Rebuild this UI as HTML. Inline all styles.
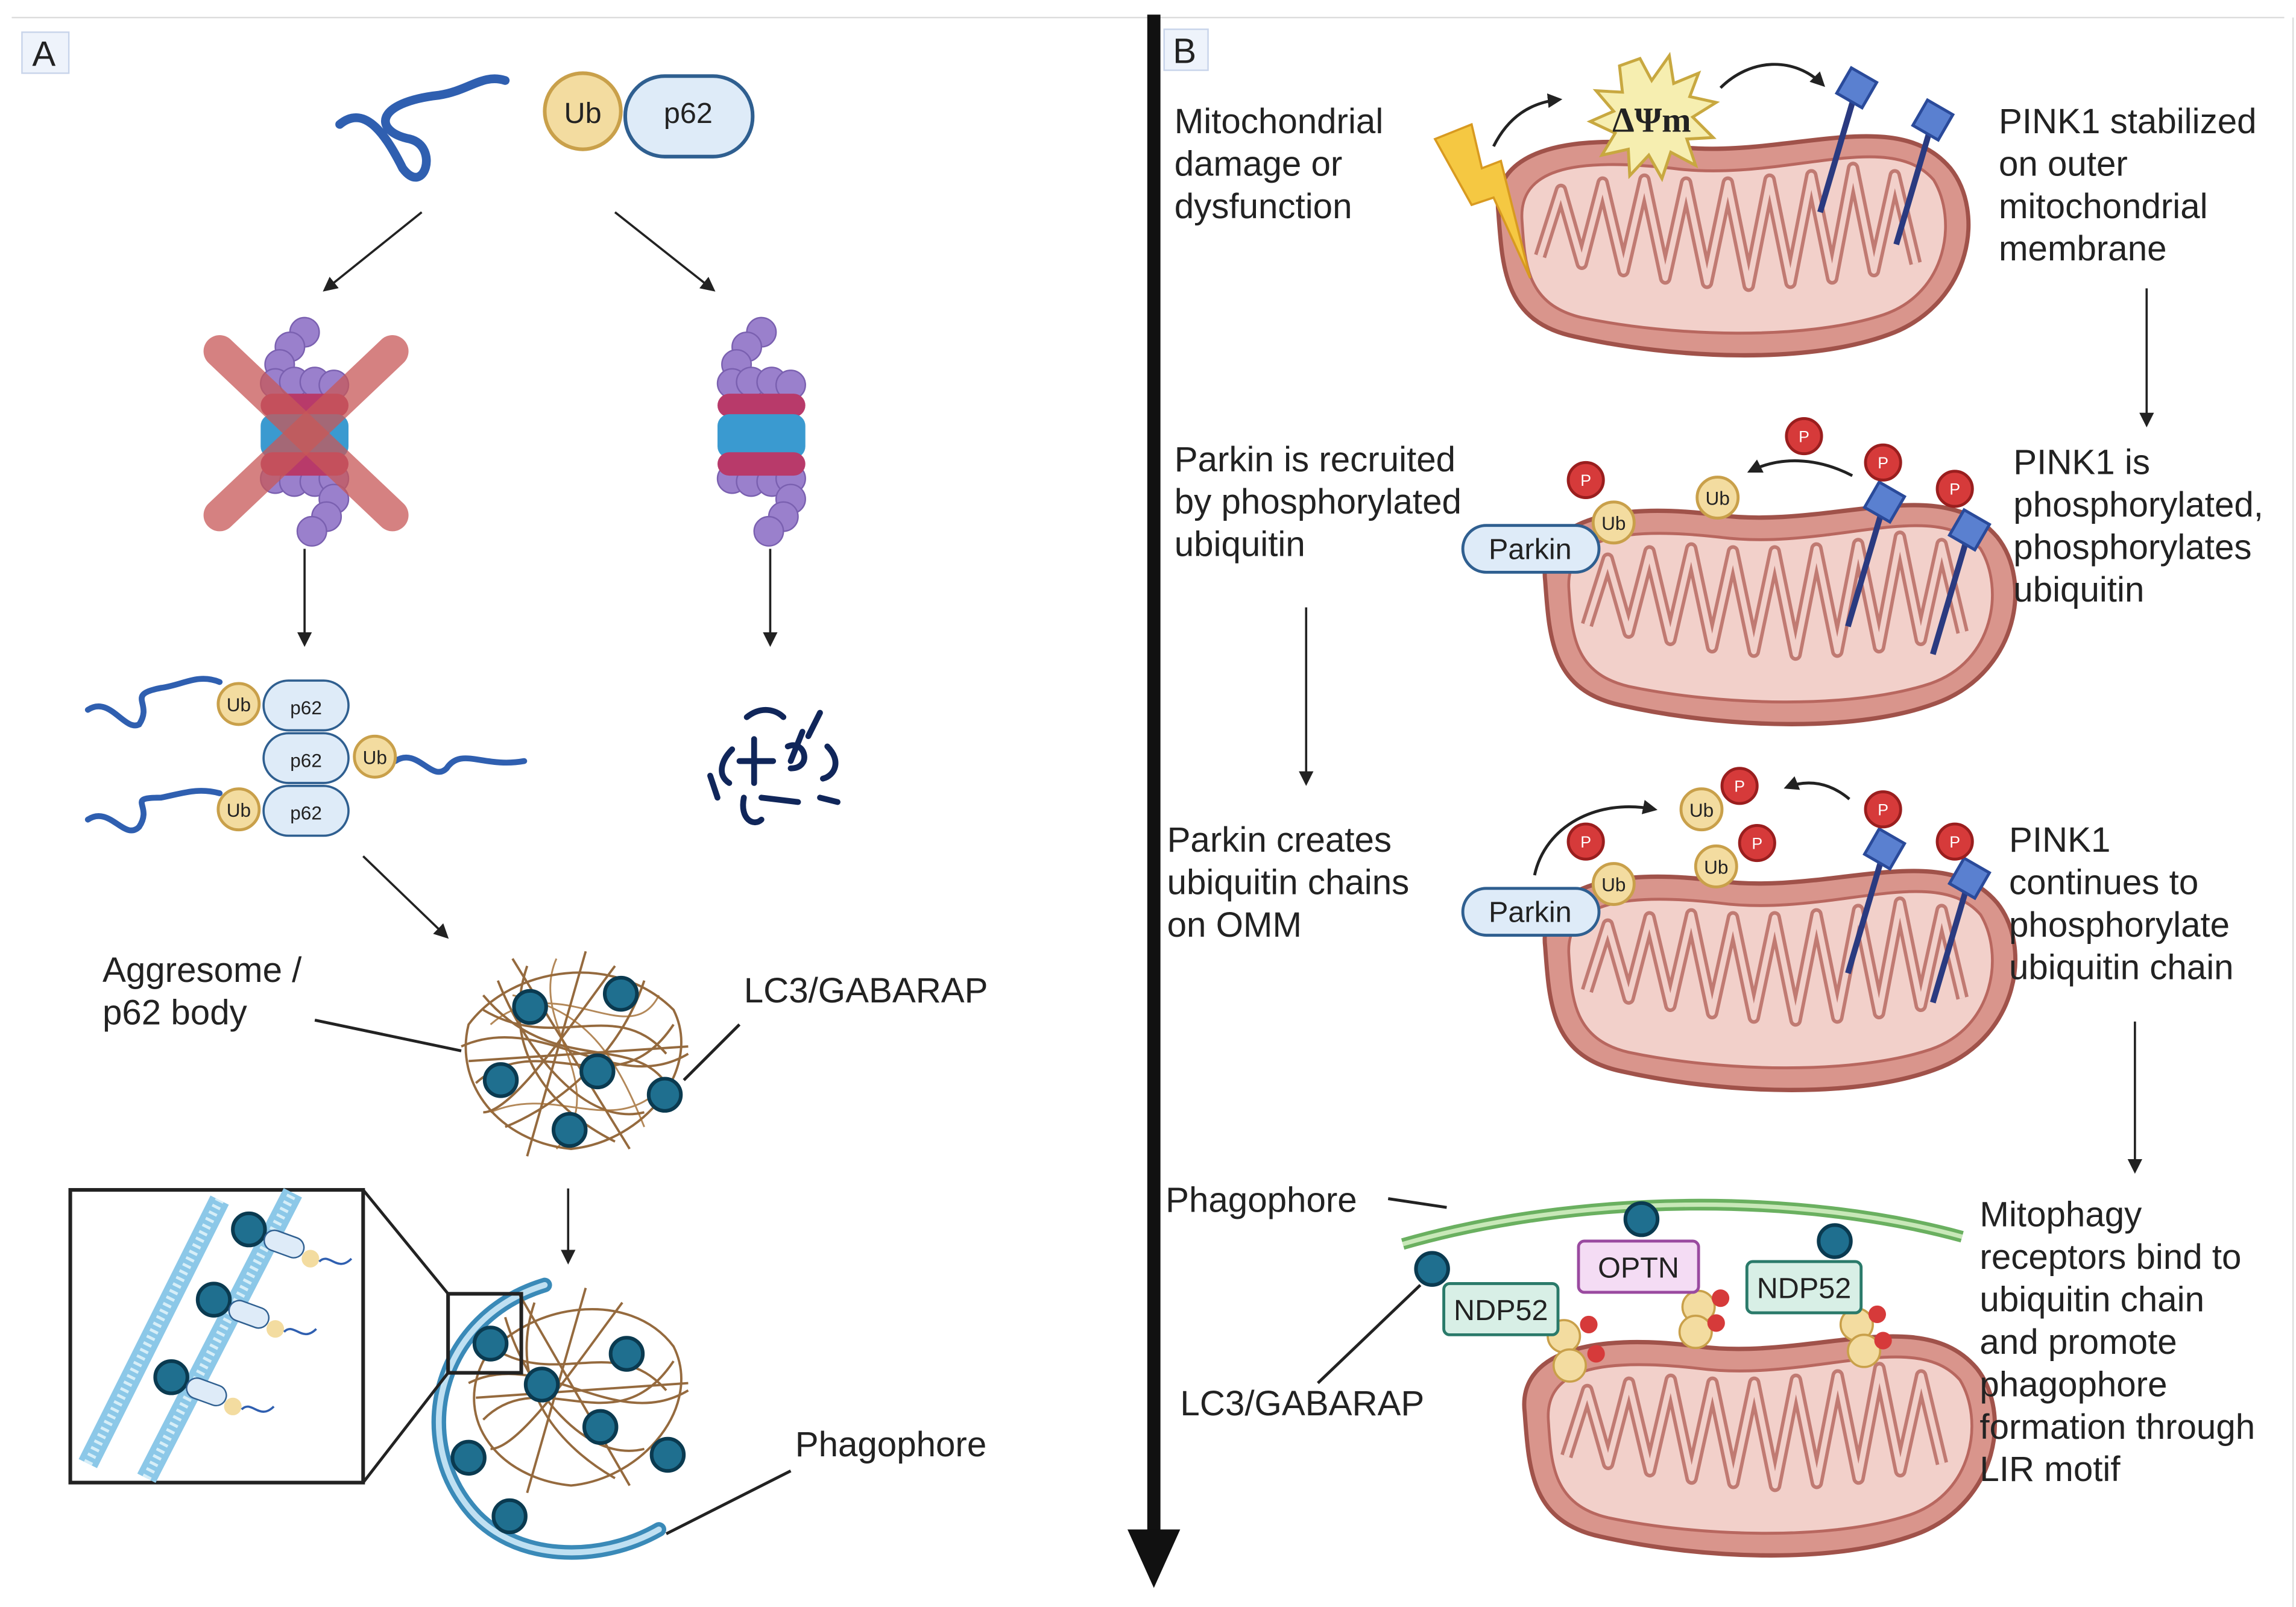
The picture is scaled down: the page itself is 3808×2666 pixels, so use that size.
<!DOCTYPE html>
<html><head><meta charset="utf-8"><style>
html,body{margin:0;padding:0;background:#fff;}
svg{display:block;}
text{font-family:"Liberation Sans","DejaVu Sans",sans-serif;fill:#222;}
</style></head><body>
<svg width="3808" height="2666" viewBox="0 0 1568 1098" preserveAspectRatio="none" xmlns="http://www.w3.org/2000/svg">
<defs>
<marker id="ah" markerWidth="10" markerHeight="10" refX="8" refY="5" orient="auto" markerUnits="userSpaceOnUse"><path d="M0,0 L10,5 L0,10 Z" fill="#222"/></marker>
<g id="mito" transform="scale(0.95,1)">
<path d="M-165,-20 C-170,-60 -120,-75 -40,-65 C40,-55 120,-95 160,-50 C185,-20 175,40 120,62 C60,85 -40,80 -110,65 C-160,55 -162,20 -165,-20 Z" fill="#d9958c" stroke="#a0524a" stroke-width="3"/>
<path d="M-148,-15 C-150,-48 -115,-58 -40,-50 C40,-40 115,-78 148,-42 C165,-15 158,35 112,50 C55,68 -40,65 -105,52 C-145,43 -146,15 -148,-15 Z" fill="#f2d0ca" stroke="#b8675f" stroke-width="2"/>
<path d="M-135,10 L-120,-35 L-105,15 L-90,-40 L-75,20 L-60,-42 L-45,25 L-30,-40 L-15,28 L0,-40 L15,30 L30,-42 L45,28 L60,-45 L75,25 L90,-50 L105,20 L120,-45 L135,15" fill="none" stroke="#c07a72" stroke-width="9" stroke-linejoin="round"/>
<path d="M-135,10 L-120,-35 L-105,15 L-90,-40 L-75,20 L-60,-42 L-45,25 L-30,-40 L-15,28 L0,-40 L15,30 L30,-42 L45,28 L60,-45 L75,25 L90,-50 L105,20 L120,-45 L135,15" fill="none" stroke="#f2d0ca" stroke-width="4" stroke-linejoin="round"/>
</g>
<g id="ub"><circle r="14" fill="#f3dca0" stroke="#c9a04a" stroke-width="2"/><text y="5" text-anchor="middle" font-size="13">Ub</text></g>
<g id="ubs"><circle r="11" fill="#f3dca0" stroke="#c9a04a" stroke-width="1.5"/></g>
<g id="pp"><circle r="12" fill="#d63a3a" stroke="#9a1e1e" stroke-width="2"/><text y="4" text-anchor="middle" font-size="11" style="fill:#fff">P</text></g>
<g id="pink"><line x1="0" y1="0" x2="-25" y2="85" stroke="#2a3a80" stroke-width="4"/><rect x="-10" y="-10" width="20" height="20" transform="rotate(30)" fill="#5a80d0" stroke="#2a4a9a" stroke-width="2"/></g>
<g id="lc3"><circle r="11" fill="#1f6f8f" stroke="#0a3a50" stroke-width="2.5"/></g>
<g id="prot"><g fill="#9a80cc" stroke="#7a60b0" stroke-width="1">
<circle cx="0" cy="-68" r="10"/><circle cx="-10" cy="-58" r="10"/><circle cx="-17" cy="-46" r="10"/>
<circle cx="-20" cy="-33" r="10"/><circle cx="-7" cy="-34" r="10"/><circle cx="7" cy="-34" r="10"/><circle cx="20" cy="-32" r="10"/>
<circle cx="-20" cy="32" r="10"/><circle cx="-7" cy="34" r="10"/><circle cx="7" cy="34" r="10"/><circle cx="20" cy="32" r="10"/>
<circle cx="20" cy="46" r="10"/><circle cx="15" cy="58" r="10"/><circle cx="5" cy="68" r="10"/></g>
<rect x="-30" y="-26" width="60" height="16" rx="8" fill="#b83a6a"/><rect x="-30" y="-12" width="60" height="30" rx="8" fill="#3a9ad0"/><rect x="-30" y="14" width="60" height="16" rx="8" fill="#b83a6a"/>
</g>
</defs>
<rect width="1568" height="1098" fill="#fff"/>
<line x1="8" y1="12" x2="1560" y2="12" stroke="#ddd" stroke-width="1"/>
<line x1="1566" y1="12" x2="1566" y2="1098" stroke="#ddd" stroke-width="1"/>

<!-- Panel A -->
<rect x="15" y="22" width="32" height="28" fill="#eef3fb" stroke="#c8d4ea"/>
<text x="22" y="45" font-size="24">A</text>
<path d="M232,85 C250,70 265,95 275,115 C290,135 300,100 280,95 C255,90 255,70 300,65 C320,62 330,50 345,55" fill="none" stroke="#2f5fb0" stroke-width="6" stroke-linecap="round"/>
<circle cx="398" cy="76" r="26" fill="#f3dca0" stroke="#c9a04a" stroke-width="2.5"/><text x="398" y="84" text-anchor="middle" font-size="20">Ub</text>
<rect x="427" y="52" width="87" height="55" rx="27" fill="#deebf8" stroke="#2f5f90" stroke-width="2.5"/><text x="470" y="84" text-anchor="middle" font-size="20">p62</text>
<line x1="288" y1="145" x2="222" y2="198" stroke="#222" stroke-width="1.5" marker-end="url(#ah)"/>
<line x1="420" y1="145" x2="487" y2="198" stroke="#222" stroke-width="1.5" marker-end="url(#ah)"/>
<use href="#prot" x="208" y="295"/>
<line x1="150" y1="240" x2="268" y2="352" stroke="#c85858" stroke-width="22" stroke-linecap="round" opacity="0.75"/>
<line x1="268" y1="240" x2="150" y2="352" stroke="#c85858" stroke-width="22" stroke-linecap="round" opacity="0.75"/>
<use href="#prot" x="520" y="295"/>
<line x1="208" y1="375" x2="208" y2="440" stroke="#222" stroke-width="1.5" marker-end="url(#ah)"/>
<line x1="526" y1="375" x2="526" y2="440" stroke="#222" stroke-width="1.5" marker-end="url(#ah)"/>
<g fill="none" stroke="#2f5fb0" stroke-width="4" stroke-linecap="round">
<path d="M60,485 C75,475 85,500 95,495 C105,480 85,475 110,470 C125,468 135,460 150,466"/>
<path d="M270,520 C285,510 295,535 305,525 C315,510 330,525 358,520"/>
<path d="M60,560 C75,550 85,575 95,565 C105,550 85,545 110,545 C125,542 135,538 150,542"/>
</g>
<use href="#ub" x="163" y="481"/><use href="#ub" x="256" y="517"/><use href="#ub" x="163" y="553"/>
<g fill="#deebf8" stroke="#2f5f90" stroke-width="1.5">
<rect x="180" y="465" width="58" height="34" rx="17"/><rect x="180" y="501" width="58" height="34" rx="17"/><rect x="180" y="537" width="58" height="34" rx="17"/></g>
<text x="209" y="488" text-anchor="middle" font-size="13">p62</text><text x="209" y="524" text-anchor="middle" font-size="13">p62</text><text x="209" y="560" text-anchor="middle" font-size="13">p62</text>
<g fill="none" stroke="#10265a" stroke-width="4" stroke-linecap="round">
<path d="M510,490 C520,482 530,485 535,490"/><path d="M548,500 L540,520"/><path d="M560,487 L552,503"/><path d="M500,512 C492,520 490,530 498,535"/>
<path d="M515,505 L515,535 M505,520 L528,520"/><path d="M538,510 C550,505 555,525 540,525"/><path d="M565,510 C575,520 570,530 562,532"/><path d="M520,545 L545,548"/><path d="M485,530 L490,545"/><path d="M508,545 C505,560 515,565 520,560"/><path d="M560,545 L572,548"/></g>
<line x1="248" y1="585" x2="305" y2="640" stroke="#222" stroke-width="1.5" marker-end="url(#ah)"/>
<g fill="none" stroke="#8a5a2a" stroke-width="1.6" opacity="0.9">
<path d="M320,700 C350,660 420,650 460,690 C480,730 440,780 390,785 C340,780 310,740 320,700 Z"/>
<path d="M330,690 C380,720 420,680 455,720 M325,740 C370,700 420,760 460,700 M340,670 C360,720 400,770 440,760 M360,660 C340,720 380,760 420,780 M420,660 C390,700 350,760 330,760 M440,670 C420,730 370,760 345,770 M315,715 C370,690 420,750 470,720 M350,655 L430,785 M400,650 L360,790 M320,725 L470,715 M330,680 C380,740 440,700 460,750"/>
</g>
<g stroke="#a06a30" stroke-width="1.2" fill="none" opacity="0.8"><path d="M335,700 C380,660 430,720 450,680 M335,760 C380,740 420,780 455,740 M350,680 C400,690 420,720 440,770 M380,655 C360,700 420,740 380,785"/></g>
<use href="#lc3" x="362" y="688"/><use href="#lc3" x="424" y="679"/><use href="#lc3" x="342" y="738"/><use href="#lc3" x="408" y="732"/><use href="#lc3" x="454" y="748"/><use href="#lc3" x="389" y="772"/>
<text x="70" y="671" font-size="24">Aggresome /</text><text x="70" y="700" font-size="24">p62 body</text>
<line x1="215" y1="697" x2="315" y2="718" stroke="#222" stroke-width="2"/>
<text x="508" y="685" font-size="24">LC3/GABARAP</text>
<line x1="505" y1="700" x2="467" y2="738" stroke="#222" stroke-width="2"/>
<line x1="388" y1="812" x2="388" y2="862" stroke="#222" stroke-width="1.5" marker-end="url(#ah)"/>
<path d="M372,878 C300,900 280,980 320,1030 C350,1068 410,1068 450,1045" fill="none" stroke="#3a8ab8" stroke-width="10" stroke-linecap="round"/>
<path d="M372,878 C300,900 280,980 320,1030 C350,1068 410,1068 450,1045" fill="none" stroke="#bfe0f2" stroke-width="4" stroke-linecap="round"/>
<g fill="none" stroke="#8a5a2a" stroke-width="1.6" opacity="0.9">
<path d="M330,930 C360,890 430,880 460,920 C480,960 440,1010 390,1015 C340,1010 310,970 330,930 Z"/>
<path d="M335,920 C380,950 420,910 455,950 M330,970 C370,930 420,990 460,930 M345,900 C360,950 400,1000 440,990 M365,890 C345,950 385,990 420,1010 M425,890 C395,930 355,990 335,990 M320,945 C370,920 420,980 470,950 M355,885 L430,1015 M400,880 L360,1020 M325,955 L470,945"/></g>
<use href="#lc3" x="335" y="918"/><use href="#lc3" x="428" y="925"/><use href="#lc3" x="370" y="946"/><use href="#lc3" x="410" y="975"/><use href="#lc3" x="456" y="994"/><use href="#lc3" x="320" y="996"/><use href="#lc3" x="348" y="1036"/>
<rect x="306" y="884" width="50" height="54" fill="none" stroke="#222" stroke-width="2.5"/>
<line x1="248" y1="813" x2="306" y2="884" stroke="#222" stroke-width="2"/>
<line x1="248" y1="1013" x2="306" y2="938" stroke="#222" stroke-width="2"/>
<rect x="48" y="813" width="200" height="200" fill="#fff" stroke="#222" stroke-width="2.5"/>
<g stroke="#8cc8e8" stroke-width="14"><line x1="60" y1="1000" x2="150" y2="820"/><line x1="100" y1="1010" x2="200" y2="815"/></g>
<g stroke="#d6eef8" stroke-width="6" stroke-dasharray="2 3"><line x1="60" y1="1000" x2="150" y2="820"/><line x1="100" y1="1010" x2="200" y2="815"/></g>
<g>
<use href="#lc3" x="170" y="840"/><rect x="180" y="843" width="28" height="14" rx="7" transform="rotate(20 194 850)" fill="#deebf8" stroke="#2f5f90"/><circle cx="212" cy="860" r="6" fill="#f3dca0"/><path d="M218,862 C225,855 230,870 240,860" fill="none" stroke="#2f5fb0" stroke-width="1.5"/>
<use href="#lc3" x="146" y="888"/><rect x="156" y="891" width="28" height="14" rx="7" transform="rotate(20 170 898)" fill="#deebf8" stroke="#2f5f90"/><circle cx="188" cy="908" r="6" fill="#f3dca0"/><path d="M194,910 C201,903 206,918 216,908" fill="none" stroke="#2f5fb0" stroke-width="1.5"/>
<use href="#lc3" x="117" y="941"/><rect x="127" y="944" width="28" height="14" rx="7" transform="rotate(20 141 951)" fill="#deebf8" stroke="#2f5f90"/><circle cx="159" cy="961" r="6" fill="#f3dca0"/><path d="M165,963 C172,956 177,971 187,961" fill="none" stroke="#2f5fb0" stroke-width="1.5"/>
</g>
<text x="543" y="995" font-size="24">Phagophore</text>
<line x1="540" y1="1005" x2="455" y2="1048" stroke="#222" stroke-width="2"/>

<line x1="788" y1="10" x2="788" y2="1050" stroke="#111" stroke-width="9"/>
<path d="M770,1045 L806,1045 L788,1085 Z" fill="#111"/>

<rect x="795" y="20" width="30" height="28" fill="#eef3fb" stroke="#c8d4ea"/>
<text x="801" y="43" font-size="24">B</text>
<line x1="1466" y1="197" x2="1466" y2="290" stroke="#222" stroke-width="1.5" marker-end="url(#ah)"/>
<line x1="892" y1="415" x2="892" y2="535" stroke="#222" stroke-width="1.5" marker-end="url(#ah)"/>
<line x1="1458" y1="698" x2="1458" y2="800" stroke="#222" stroke-width="1.5" marker-end="url(#ah)"/>

<use href="#mito" x="1180" y="165"/>
<path d="M980,95 L1005,85 L1012,115 L1025,110 L1045,190 L1020,135 L1005,140 Z" fill="#f5c842" stroke="#d89a20" stroke-width="1.5"/>
<path d="M1120,40 L1128,55 L1140,38 L1143,57 L1160,50 L1154,66 L1172,70 L1156,80 L1170,94 L1152,95 L1158,113 L1141,104 L1135,122 L1126,106 L1113,120 L1112,102 L1094,106 L1103,91 L1086,83 L1102,76 L1090,62 L1108,63 L1106,45 Z" fill="#f6eeb0" stroke="#c8a840" stroke-width="2"/>
<text x="1128" y="90" text-anchor="middle" font-size="24" style="font-family:'Liberation Serif',serif;font-weight:bold">ΔΨm</text>
<path d="M1020,100 C1030,80 1045,70 1065,68" fill="none" stroke="#222" stroke-width="2" marker-end="url(#ah)"/>
<path d="M1175,60 C1195,40 1225,38 1245,58" fill="none" stroke="#222" stroke-width="2" marker-end="url(#ah)"/>
<use href="#pink" x="1268" y="60"/><use href="#pink" x="1320" y="82"/>

<use href="#mito" x="1212" y="417"/>
<use href="#pink" x="1287" y="343"/><use href="#pink" x="1345" y="362"/>
<use href="#pp" x="1286" y="316"/><use href="#pp" x="1335" y="334"/><use href="#pp" x="1232" y="298"/><use href="#pp" x="1083" y="328"/>
<use href="#ub" x="1173" y="340"/><use href="#ub" x="1102" y="357"/>
<path d="M1265,325 C1240,312 1215,312 1195,322" fill="none" stroke="#222" stroke-width="2" marker-end="url(#ah)"/>
<rect x="999" y="359" width="93" height="32" rx="16" fill="#deebf8" stroke="#2f5f90" stroke-width="2"/><text x="1045" y="382" text-anchor="middle" font-size="20">Parkin</text>

<use href="#mito" x="1212" y="667"/>
<use href="#pink" x="1287" y="580"/><use href="#pink" x="1345" y="600"/>
<use href="#pp" x="1286" y="553"/><use href="#pp" x="1335" y="575"/><use href="#pp" x="1188" y="537"/><use href="#pp" x="1200" y="576"/><use href="#pp" x="1083" y="575"/>
<use href="#ub" x="1162" y="553"/><use href="#ub" x="1172" y="592"/><use href="#ub" x="1102" y="604"/>
<path d="M1263,546 C1250,535 1235,532 1220,538" fill="none" stroke="#222" stroke-width="2" marker-end="url(#ah)"/>
<path d="M1048,598 C1055,565 1090,545 1130,553" fill="none" stroke="#222" stroke-width="2" marker-end="url(#ah)"/>
<rect x="999" y="607" width="93" height="32" rx="16" fill="#deebf8" stroke="#2f5f90" stroke-width="2"/><text x="1045" y="630" text-anchor="middle" font-size="20">Parkin</text>

<use href="#mito" x="1198" y="985"/>
<path d="M958,850 C1080,815 1230,815 1340,845" fill="none" stroke="#6ab060" stroke-width="8"/>
<path d="M958,850 C1080,815 1230,815 1340,845" fill="none" stroke="#c8e8b8" stroke-width="3"/>
<line x1="948" y1="819" x2="988" y2="825" stroke="#222" stroke-width="2"/>
<use href="#lc3" x="978" y="867"/><use href="#lc3" x="1121" y="833"/><use href="#lc3" x="1253" y="848"/>
<line x1="970" y1="878" x2="900" y2="945" stroke="#222" stroke-width="2"/>
<g>
<use href="#ubs" x="1068" y="913"/><use href="#ubs" x="1072" y="933"/><circle cx="1085" cy="905" r="6" fill="#d63a3a"/><circle cx="1090" cy="925" r="6" fill="#d63a3a"/>
<use href="#ubs" x="1160" y="893"/><use href="#ubs" x="1158" y="910"/><circle cx="1175" cy="887" r="6" fill="#d63a3a"/><circle cx="1172" cy="904" r="6" fill="#d63a3a"/>
<use href="#ubs" x="1268" y="905"/><use href="#ubs" x="1273" y="923"/><circle cx="1282" cy="898" r="6" fill="#d63a3a"/><circle cx="1286" cy="916" r="6" fill="#d63a3a"/>
</g>
<rect x="986" y="877" width="78" height="35" rx="4" fill="#d8efe6" stroke="#2a7a6a" stroke-width="2"/><text x="1025" y="902" text-anchor="middle" font-size="20">NDP52</text>
<rect x="1078" y="848" width="82" height="35" rx="4" fill="#f4dcf4" stroke="#9a4aa0" stroke-width="2"/><text x="1119" y="873" text-anchor="middle" font-size="20">OPTN</text>
<rect x="1193" y="862" width="78" height="35" rx="4" fill="#d8efe6" stroke="#2a7a6a" stroke-width="2"/><text x="1232" y="887" text-anchor="middle" font-size="20">NDP52</text>

<g font-size="24">
<text x="802" y="91">Mitochondrial</text><text x="802" y="120">damage or</text><text x="802" y="149">dysfunction</text>
<text x="1365" y="91">PINK1 stabilized</text><text x="1365" y="120">on outer</text><text x="1365" y="149">mitochondrial</text><text x="1365" y="178">membrane</text>
<text x="802" y="322">Parkin is recruited</text><text x="802" y="351">by phosphorylated</text><text x="802" y="380">ubiquitin</text>
<text x="1375" y="324">PINK1 is</text><text x="1375" y="353">phosphorylated,</text><text x="1375" y="382">phosphorylates</text><text x="1375" y="411">ubiquitin</text>
<text x="797" y="582">Parkin creates</text><text x="797" y="611">ubiquitin chains</text><text x="797" y="640">on OMM</text>
<text x="1372" y="582">PINK1</text><text x="1372" y="611">continues to</text><text x="1372" y="640">phosphorylate</text><text x="1372" y="669">ubiquitin chain</text>
<text x="796" y="828">Phagophore</text>
<text x="806" y="967">LC3/GABARAP</text>
<text x="1352" y="838">Mitophagy</text><text x="1352" y="867">receptors bind to</text><text x="1352" y="896">ubiquitin chain</text><text x="1352" y="925">and promote</text><text x="1352" y="954">phagophore</text><text x="1352" y="983">formation through</text><text x="1352" y="1012">LIR motif</text>
</g>
</svg>
</body></html>
